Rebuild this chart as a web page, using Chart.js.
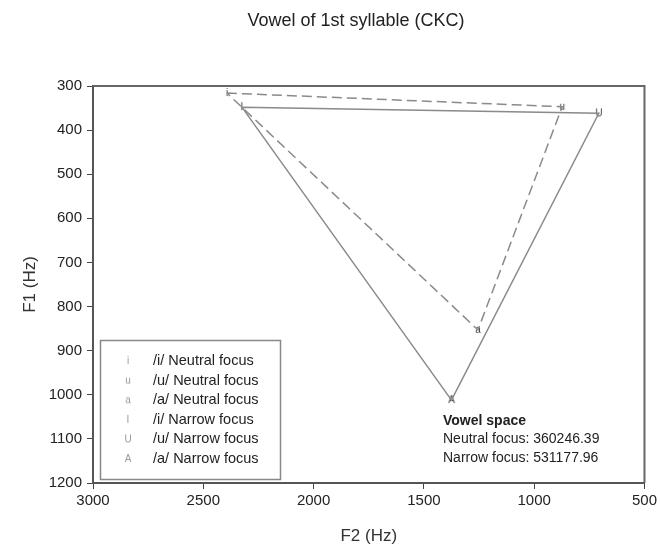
<!DOCTYPE html>
<html>
<head>
<meta charset="utf-8">
<script src="https://cdn.jsdelivr.net/npm/chart.js@4/dist/chart.umd.min.js"></script>
<style>
  body { margin: 0; background: #fff; }
  canvas { display: block; }
</style>
</head>
<body>
<canvas id="vowel-chart" width="660" height="551"></canvas>
<script>
const vowelSymbols = ['i', 'u', 'a'];
const narrowSymbols = ['I', 'U', 'A'];
const vowelNames = ['/i/', '/u/', '/a/'];
const neutralF2 = [2393, 873, 1255];
const neutralF1 = [316, 347, 853];
const narrowF2 = [2325, 707, 1375];
const narrowF1 = [348, 362, 1012];
const spaceLines = ['Neutral focus: 360246.39', 'Narrow focus: 531177.96'];

const FONT = 'Arial, "Liberation Sans", sans-serif';

function makeMarker(ch, color, size) {
  const c = document.createElement('canvas');
  c.width = 14;
  c.height = 14;
  const g = c.getContext('2d');
  g.fillStyle = color;
  g.font = size + 'px ' + FONT;
  g.textAlign = 'center';
  g.textBaseline = 'middle';
  g.fillText(ch, 7, 7);
  return c;
}

function triangle(f2, f1) {
  return [0, 1, 2, 0].map(k => ({ x: f2[k], y: f1[k] }));
}

const markerSets = [];
vowelSymbols.forEach((s, k) => markerSets.push({
  label: vowelNames[k] + ' Neutral focus',
  data: [{ x: neutralF2[k], y: neutralF1[k] }],
  pointStyle: makeMarker(s, '#444', 10),
  legendStyle: makeMarker(s, '#999', 10),
}));
narrowSymbols.forEach((s, k) => markerSets.push({
  label: vowelNames[k] + ' Narrow focus',
  data: [{ x: narrowF2[k], y: narrowF1[k] }],
  pointStyle: makeMarker(s, '#444', 10),
  legendStyle: makeMarker(s, '#999', 10),
}));

const decorPlugin = {
  id: 'decor',
  afterDraw(chart) {
    const { ctx, chartArea } = chart;
    const { left, right, top, bottom } = chartArea;
    ctx.save();

    // frame top + right
    ctx.strokeStyle = '#666';
    ctx.lineWidth = 2;
    ctx.beginPath();
    ctx.moveTo(left, top);
    ctx.lineTo(right, top);
    ctx.lineTo(right, bottom);
    ctx.stroke();

    // title
    ctx.fillStyle = '#222';
    ctx.font = '18px ' + FONT;
    ctx.textAlign = 'center';
    ctx.textBaseline = 'middle';
    ctx.fillText('Vowel of 1st syllable (CKC)', 356, 21);

    // legend box
    ctx.strokeStyle = '#888';
    ctx.lineWidth = 1.5;
    ctx.strokeRect(100.5, 340.5, 180, 139);
    ctx.font = '14.5px ' + FONT;
    ctx.textAlign = 'left';
    markerSets.forEach((m, i) => {
      const y = 361 + i * 19.6;
      ctx.drawImage(m.legendStyle, 121, y - 7);
      ctx.fillStyle = '#222';
      ctx.fillText(m.label, 153, y);
    });

    // vowel space
    ctx.font = 'bold 14px ' + FONT;
    ctx.fillText('Vowel space', 443, 421);
    ctx.font = '14px ' + FONT;
    spaceLines.forEach((t, i) => ctx.fillText(t, 443, 439.5 + i * 18.5));

    ctx.restore();
  }
};

new Chart(document.getElementById('vowel-chart'), {
  type: 'scatter',
  data: {
    datasets: [
      {
        label: 'Neutral',
        data: triangle(neutralF2, neutralF1),
        showLine: true,
        borderColor: '#8a8a8a',
        borderWidth: 1.5,
        borderDash: [10, 5],
        pointRadius: 0,
      },
      {
        label: 'Narrow',
        data: triangle(narrowF2, narrowF1),
        showLine: true,
        borderColor: '#8a8a8a',
        borderWidth: 1.5,
        pointRadius: 0,
      },
      ...markerSets.map(m => ({
        label: m.label,
        data: m.data,
        pointStyle: m.pointStyle,
        pointRadius: 7,
      })),
    ],
  },
  options: {
    responsive: false,
    animation: false,
    layout: { padding: { top: 86, right: 15, left: 0, bottom: 0 } },
    scales: {
      x: {
        type: 'linear',
        min: 500,
        max: 3000,
        reverse: true,
        afterFit: (s) => { s.height = 68; },
        ticks: { stepSize: 500, color: '#222', font: { family: FONT, size: 15 }, padding: 3, callback: (v) => String(v) },
        grid: { drawOnChartArea: false, tickLength: 6, color: '#444' },
        border: { color: '#555', width: 2 },
        title: { display: true, text: 'F2 (Hz)', color: '#333', font: { family: FONT, size: 17 }, padding: { top: 0, bottom: 4 } },
      },
      y: {
        min: 300,
        max: 1200,
        reverse: true,
        afterFit: (s) => { s.width = 93; },
        ticks: { stepSize: 100, color: '#222', font: { family: FONT, size: 15 }, padding: 5, callback: (v) => String(v) },
        grid: { drawOnChartArea: false, tickLength: 6, color: '#444' },
        border: { color: '#555', width: 2 },
        title: { display: true, text: 'F1 (Hz)', color: '#333', font: { family: FONT, size: 17 }, padding: { top: 20, bottom: 0 } },
      },
    },
    plugins: {
      legend: { display: false },
      title: { display: false },
      tooltip: { enabled: false },
    },
  },
  plugins: [decorPlugin],
});
</script>
</body>
</html>
